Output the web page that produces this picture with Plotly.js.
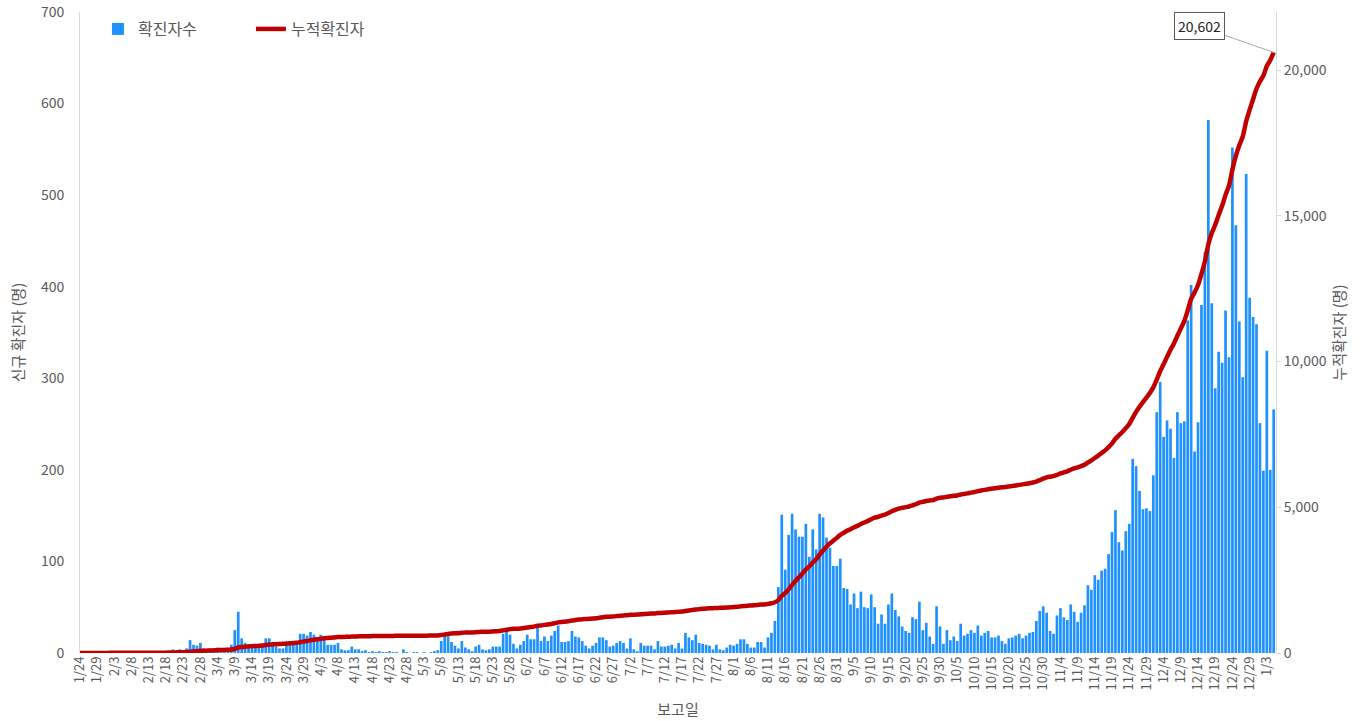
<!DOCTYPE html>
<html>
<head>
<meta charset="utf-8">
<script src="https://cdn.plot.ly/plotly-3.0.1.min.js"></script>
<style>
html,body{margin:0;padding:0;background:#fff;}
#chart{width:1366px;height:721px;}
</style>
</head>
<body>
<div id="chart"></div>
<script>
// Daily new confirmed cases (신규 확진자), by report date
const monthStarts = ['2020-01-24','2020-02-01','2020-03-01','2020-04-01','2020-05-01','2020-06-01','2020-07-01','2020-08-01','2020-09-01','2020-10-01','2020-11-01','2020-12-01','2021-01-01'];

const newJan = [1,0,0,0,0,0,2,1];
const newFeb = [0,1,0,0,2,1,0,0,0,1,0,0,0,0,0,2,1,0,2,4,3,4,2,5,14,9,8,11,5];
const newMar = [4,5,3,6,4,5,4,9,25,45,16,11,9,8,7,8,9,16,16,8,7,5,5,9,9,9,10,21,21,19,23];
const newApr = [20,17,20,16,9,9,9,11,4,3,3,7,4,4,2,3,1,2,1,2,1,1,2,1,1,0,4,1,0,1];
const newMay = [1,0,1,0,1,2,3,13,20,21,12,8,5,13,6,4,2,7,9,4,3,4,7,7,7,21,24,20,10,5,9];
const newJun = [13,20,15,15,28,13,18,13,19,24,30,12,12,13,24,18,17,13,8,5,8,11,17,17,14,7,8,11,13,11];
const newJul = [5,16,4,2,11,8,8,8,4,13,7,7,8,9,5,11,5,22,17,14,20,11,10,9,8,4,9,4,3,6,9];
const newAug = [8,10,15,15,10,6,6,12,12,6,17,22,35,72,151,91,129,152,135,127,127,141,105,135,113,152,148,126,115,95,95];
const newSep = [103,71,70,53,65,49,67,50,49,64,50,32,42,32,53,65,47,40,29,24,22,39,37,56,25,33,18,10,51,29];
const newOct = [10,25,14,18,13,32,19,21,25,22,30,19,22,24,17,17,19,13,10,16,17,19,21,16,19,22,23,35,46,51,44];
const newNov = [24,21,41,49,39,36,53,45,34,44,52,74,69,85,80,90,92,108,132,156,121,112,133,141,212,204,177,157,158,155];
const newDec = [194,263,296,236,254,245,213,263,251,253,363,402,220,252,380,438,582,382,289,329,317,374,323,552,467,362,301,523,388,367,359];
const newJan21 = [251,199,330,200,266];

// Cumulative confirmed cases (누적확진자)
const cumJan = [1,1,1,1,1,1,3,4];
const cumFeb = [4,5,5,5,7,8,8,8,8,9,9,9,9,9,9,11,12,12,14,18,21,25,27,32,46,55,63,74,79];
const cumMar = [83,88,91,97,101,106,110,119,144,189,205,216,225,233,240,248,257,273,289,297,304,309,314,323,332,341,351,372,393,412,435];
const cumApr = [455,472,492,508,517,526,535,546,550,553,556,563,567,571,573,576,577,579,580,582,583,584,586,587,588,588,592,593,593,594];
const cumMay = [595,595,596,596,597,599,602,615,635,656,668,676,681,694,700,704,706,713,722,726,729,733,740,747,754,775,799,819,829,834,843];
const cumJun = [856,876,891,906,934,947,965,978,997,1021,1051,1063,1075,1088,1112,1130,1147,1160,1168,1173,1181,1192,1209,1226,1240,1247,1255,1266,1279,1290];
const cumJul = [1295,1311,1315,1317,1328,1336,1344,1352,1356,1369,1376,1383,1391,1400,1405,1416,1421,1443,1460,1474,1494,1505,1515,1524,1532,1536,1545,1549,1552,1558,1567];
const cumAug = [1575,1585,1600,1615,1625,1631,1637,1649,1661,1667,1684,1706,1741,1813,1964,2055,2184,2336,2471,2598,2725,2866,2971,3106,3219,3371,3519,3645,3760,3855,3950];
const cumSep = [4053,4124,4194,4247,4312,4361,4428,4478,4527,4591,4641,4673,4715,4747,4800,4865,4912,4952,4981,5005,5027,5066,5103,5159,5184,5217,5235,5245,5296,5325];
const cumOct = [5335,5360,5374,5392,5405,5437,5456,5477,5502,5524,5554,5573,5595,5619,5636,5653,5672,5685,5695,5711,5728,5747,5768,5784,5803,5825,5848,5883,5929,5980,6024];
const cumNov = [6048,6069,6110,6159,6198,6234,6287,6332,6366,6410,6462,6536,6605,6690,6770,6860,6952,7060,7192,7348,7469,7581,7714,7855,8067,8271,8448,8605,8763,8918];
const cumDec = [9112,9375,9671,9907,10161,10406,10619,10882,11133,11386,11749,12151,12371,12623,13003,13441,14023,14405,14694,15023,15340,15714,16037,16589,17056,17418,17719,18242,18630,18997,19356];
const cumJan21 = [19607,19806,20136,20336,20602];

const newBlocks = [newJan,newFeb,newMar,newApr,newMay,newJun,newJul,newAug,newSep,newOct,newNov,newDec,newJan21];
const cumBlocks = [cumJan,cumFeb,cumMar,cumApr,cumMay,cumJun,cumJul,cumAug,cumSep,cumOct,cumNov,cumDec,cumJan21];

const titleLeft = '신규 확진자 (명)';
const titleRight = '누적확진자 (명)';
const titleX = '보고일';
const nameBar = '확진자수';
const nameLine = '누적확진자';
const finalLabel = '20,602';
const rightTickVals = [0,5000,10000,15000,20000];
const rightTickText = ['0','5,000','10,000','15,000','20,000'];

// build the report dates for each month block
function blockDates(startStr, n){
  const out = [];
  const p = startStr.split('-').map(Number);
  for(let i=0;i<n;i++){
    const d = new Date(Date.UTC(p[0], p[1]-1, p[2]+i));
    out.push(d.toISOString().slice(0,10));
  }
  return out;
}
let xs = [], yNew = [], yCum = [];
newBlocks.forEach((b,k)=>{
  xs = xs.concat(blockDates(monthStarts[k], b.length));
  yNew = yNew.concat(b);
  yCum = yCum.concat(cumBlocks[k]);
});

const FONT = '"Noto Sans CJK KR", "Noto Sans", sans-serif';
const GREY = '#595959';

const traces = [
  {type:'bar', x:xs, y:yNew, name:nameBar, marker:{color:'#1e90ff', line:{width:0}}, yaxis:'y'},
  {type:'scatter', mode:'lines', x:xs, y:yCum, name:nameLine, yaxis:'y2', line:{color:'#c00000', width:4.5, shape:'spline', smoothing:0.8}}
];

const layout = {
  width:1366, height:721,
  margin:{l:80, r:90, t:12, b:68},
  paper_bgcolor:'#fff', plot_bgcolor:'#fff',
  font:{family:FONT, color:GREY, size:13},
  bargap:0.22,
  showlegend:true,
  legend:{orientation:'h', x:0.015, y:1.0, xanchor:'left', yanchor:'top', font:{size:16, color:GREY}, bgcolor:'rgba(0,0,0,0)', entrywidth:108, entrywidthmode:'pixels', traceorder:'normal'},
  xaxis:{
    type:'date', range:['2020-01-24', '2021-01-05 16:00'],
    tick0:'2020-01-24', dtick:432000000, tickformat:'%-m/%-d', tickangle:-90,
    tickfont:{size:13, color:GREY}, showgrid:false, zeroline:false, showline:false, ticks:'',
    title:{text:titleX, font:{size:15, color:GREY}, standoff:14}
  },
  yaxis:{
    range:[0,700], dtick:100, showgrid:false, zeroline:false,
    showline:true, linecolor:'#d9d9d9', linewidth:1,
    tickfont:{size:14, color:GREY}, ticks:'', ticklabelstandoff:12,
    title:{text:titleLeft, font:{size:15, color:GREY}, standoff:12}
  },
  yaxis2:{
    overlaying:'y', side:'right', range:[0,21990], tickvals:rightTickVals, ticktext:rightTickText,
    showgrid:false, zeroline:false, showline:true, linecolor:'#d9d9d9', linewidth:1,
    ticks:'outside', ticklen:4, tickcolor:'#d9d9d9',
    tickfont:{size:14, color:GREY},
    title:{text:titleRight, font:{size:15, color:GREY}, standoff:8}
  },
  annotations:[{
    x:xs[xs.length-1], y:yCum[yCum.length-1], xref:'x', yref:'y2',
    text:finalLabel, showarrow:true, arrowhead:0, arrowwidth:1, arrowcolor:'#a6a6a6',
    ax:-74, ay:-26, bordercolor:GREY, borderwidth:1, borderpad:3, bgcolor:'#fff',
    font:{size:14, color:'#222', family:FONT}
  }]
};

Plotly.newPlot('chart', traces, layout, {displayModeBar:false, staticPlot:true});
</script>
</body>
</html>
